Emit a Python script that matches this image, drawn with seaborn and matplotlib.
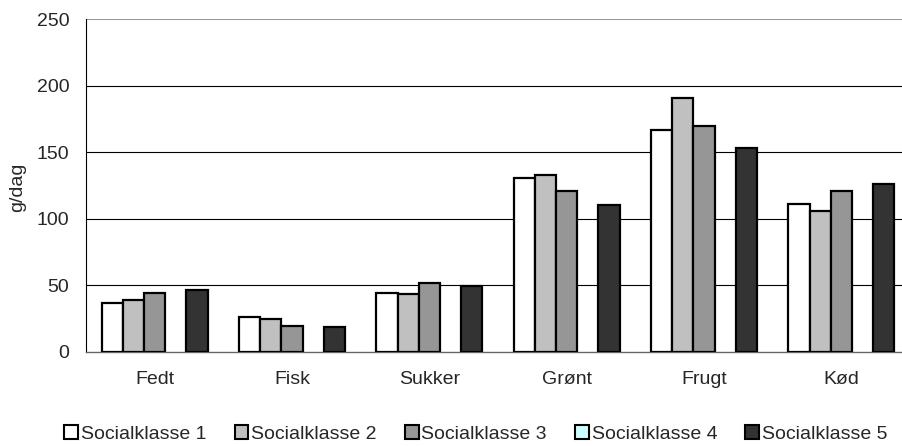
import numpy as np
import pandas as pd
import matplotlib.pyplot as plt
from matplotlib.patches import Patch
import seaborn as sns

categories = ["Fedt", "Fisk", "Sukker", "Grønt", "Frugt", "Kød"]
klasser = ["Socialklasse 1", "Socialklasse 2", "Socialklasse 3", "Socialklasse 4", "Socialklasse 5"]
klasse1 = [37, 26.5, 44.5, 131, 167, 111]
klasse2 = [39, 25, 43.5, 133, 191, 105.5]
klasse3 = [44.5, 19.5, 52, 121, 169.5, 121]
klasse4 = [np.nan] * 6
klasse5 = [46.5, 19, 49.5, 110.5, 153.5, 126.5]
colors = ["#ffffff", "#c0c0c0", "#969696", "#ccffff", "#333333"]

rows = []
for k, vals in zip(klasser, [klasse1, klasse2, klasse3, klasse4, klasse5]):
    for c, v in zip(categories, vals):
        rows.append({"kategori": c, "klasse": k, "g": v})
df = pd.DataFrame(rows)

sns.set_style("white")
plt.rcParams["font.family"] = ["Liberation Sans", "DejaVu Sans"]
fs = 14

fig = plt.figure(figsize=(9.03, 4.46), dpi=100)
# plot area runs a little past the right edge, as in the original
ax = fig.add_axes([86 / 903, 1 - 352 / 446, 824 / 903, 333 / 446])

sns.barplot(data=df, x="kategori", y="g", hue="klasse", order=categories,
            hue_order=klasser, palette=colors, width=0.77, errorbar=None,
            edgecolor="black", linewidth=1.6, legend=False, ax=ax, zorder=3)

ax.set_ylim(0, 250)
ax.set_yticks([0, 50, 100, 150, 200, 250])
ax.set_xlim(-0.5, len(categories) - 0.5)
for y in [50, 100, 150, 200]:
    ax.axhline(y, color="black", lw=0.8, zorder=1)
ax.axhline(250, color="#999999", lw=1.5, zorder=1)

ax.set_xticks(np.arange(len(categories)) + 0.5)
ax.set_xticklabels([])
ax.set_xticks(np.arange(len(categories)), minor=True)
ax.set_xticklabels(categories, minor=True)
ax.tick_params(axis="x", which="major", direction="out", length=5, width=0.8, color="black")
ax.tick_params(axis="x", which="minor", length=0, pad=14, labelsize=fs)
ax.tick_params(axis="y", direction="out", length=5, width=0.8, color="black", labelsize=fs, pad=7)

for s in ["top", "right"]:
    ax.spines[s].set_visible(False)
ax.spines["left"].set_color("black")
ax.spines["left"].set_linewidth(0.8)
ax.spines["bottom"].set_color("#666666")
ax.spines["bottom"].set_linewidth(1.0)

ax.set_xlabel("")
ax.set_ylabel("g/dag", fontsize=fs)
ax.yaxis.label.set_va("center")
ax.yaxis.set_label_coords((17.5 - 86) / 824, 0.494)

handles = [Patch(facecolor=c, edgecolor="black", linewidth=1.5, label=k) for c, k in zip(colors, klasser)]
fig.legend(handles=handles, loc="center", bbox_to_anchor=(476 / 903, 1 - 434 / 446), ncol=5,
           frameon=False, fontsize=fs, handlelength=0.7, handleheight=0.7,
           handletextpad=0.15, columnspacing=1.45, borderaxespad=0, borderpad=0)

fig.savefig("out.png", dpi=100)
